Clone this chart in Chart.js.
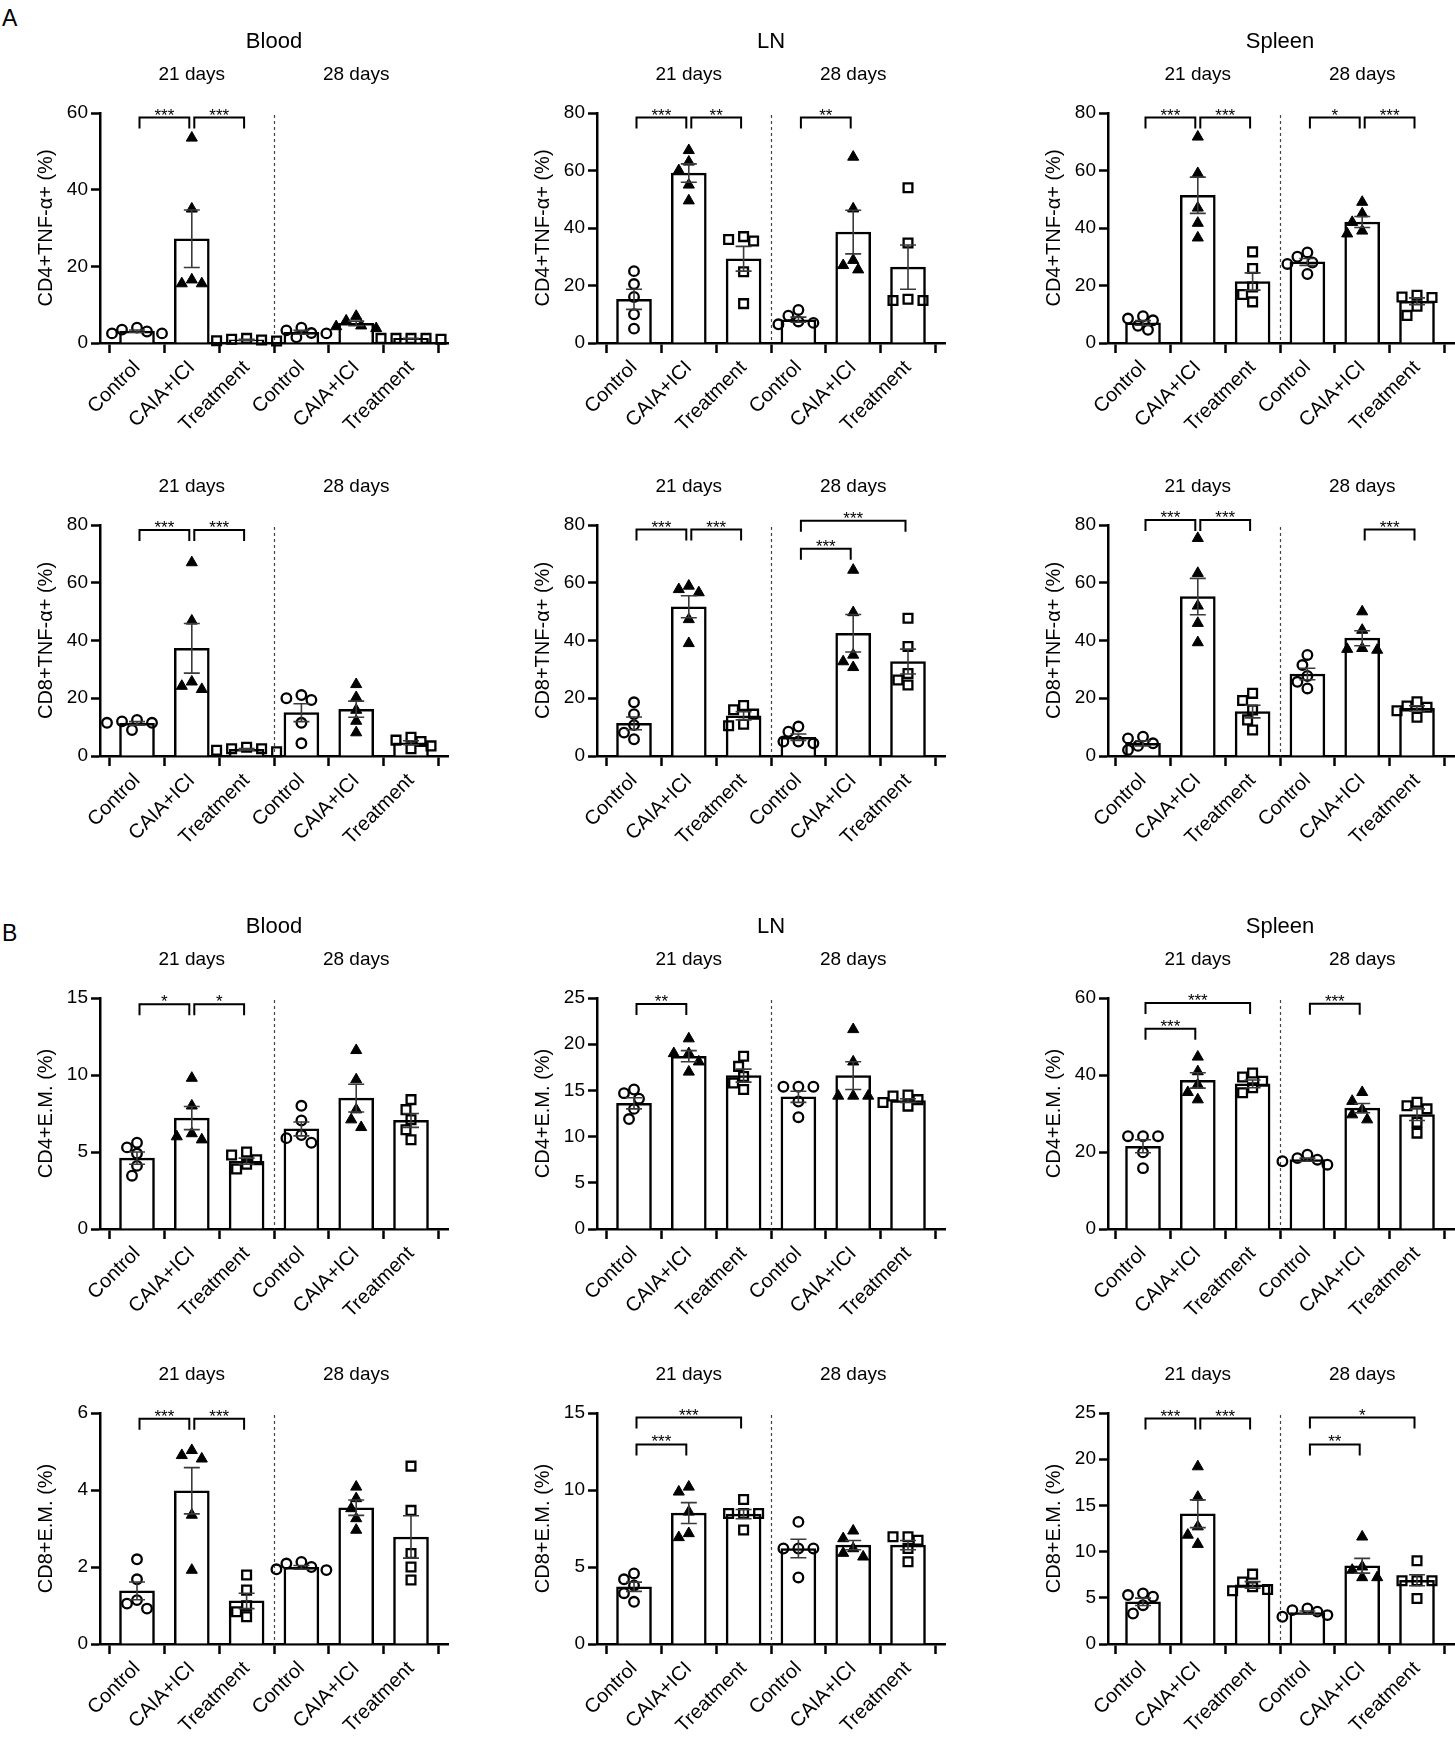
<!DOCTYPE html>
<html><head><meta charset="utf-8">
<script src="https://cdn.jsdelivr.net/npm/chart.js@4"></script>
<style>
body{margin:0;background:#fff;}
#wrap{position:relative;width:1455px;height:1745px;overflow:hidden;font-family:"Liberation Sans",Arial,sans-serif;background:#fff;}
canvas{position:absolute;}
.lbl{position:absolute;font-size:23px;color:#000;line-height:1;}
</style></head>
<body><div id="wrap"><div class="lbl" style="left:2px;top:7px">A</div><div class="lbl" style="left:2px;top:922px">B</div></div>
<script>
// ---------- categories / labels ----------
const GROUPS = ['Control','CAIA+ICI','Treatment','Control','CAIA+ICI','Treatment'];
const DAYS = ['21 days','28 days'];
const TISSUES = ['Blood','LN','Spleen'];
const Y_TITLES = ['CD4+TNF-\u03b1+ (%)','CD8+TNF-\u03b1+ (%)','CD4+E.M. (%)','CD8+E.M. (%)'];
const Y_MAX  = [[60,80,80],[80,80,80],[15,25,60],[6,15,25]];
const Y_STEP = [[20,20,20],[20,20,20],[5,5,20],[2,5,5]];

// ---------- A: CD4+TNF-a+ ----------
const bloodCD4TNF_pts = [[2.5,4.0,3.0,3.5,2.5],[53.5,35,15.5,16.5,15.5],[0.5,1.0,0.8,1.2,0.6],[4.0,3.3,1.5,2.5,2.6],[7.0,5.8,3.8,4.5,4.3],[1.2,1.2,1.0,1.2,1.2]];
const bloodCD4TNF_mean = [3.1,27.2,0.8,2.8,5.1,1.2];
const bloodCD4TNF_sem = [0.3,7.5,0.15,0.5,0.6,0.05];
const bloodCD4TNF_sig = [[0,1,'***',58.8],[1,2,'***',58.8]];

const lnCD4TNF_pts = [[25,20.5,16,10,5],[67,63,60,55,49.5],[36,37,35.5,24.8,13.7],[11.5,9.5,6.5,7.5,7],[64.7,46.7,28.8,25.5,27],[54,34.8,14.8,15.2,14.8]];
const lnCD4TNF_mean = [15.2,59.1,29.3,8.1,38.6,26.4];
const lnCD4TNF_sem = [3.5,3.2,4.3,0.9,7.6,7.7];
const lnCD4TNF_sig = [[0,1,'***',78.4],[1,2,'**',78.4],[3,4,'**',78.4]];

const spleenCD4TNF_pts = [[7.9,9.3,4.6,6.0,8.5],[71.7,59,47,41.7,36.6],[31.7,25.9,19.5,16.9,14.3],[31.5,30,28,27.5,24],[49,45,42,38,39],[16.6,15.8,16,12.8,9.6]];
const spleenCD4TNF_mean = [7.0,51.4,21.4,28.2,42.1,14.5];
const spleenCD4TNF_sem = [0.8,6.3,3.0,1.2,1.9,1.2];
const spleenCD4TNF_sig = [[0,1,'***',78.4],[1,2,'***',78.4],[3,4,'*',78.4],[4,5,'***',78.4]];

// ---------- A: CD8+TNF-a+ ----------
const bloodCD8TNF_pts = [[12,12.5,11.5,9,11.5],[67,46.8,25.7,23.1,24.2],[3,2.5,2,1.5,2.5],[20,21.1,19.4,11.5,4.4],[24.8,20.3,15.9,12.1,8.1],[6.5,5.5,5,3.5,2.5]];
const bloodCD8TNF_mean = [11.3,37.3,2.3,15.0,16.2,4.6];
const bloodCD8TNF_sem = [0.6,8.6,0.25,3.1,2.8,0.7];
const bloodCD8TNF_sig = [[0,1,'***',78.3],[1,2,'***',78.3]];

const lnCD8TNF_pts = [[18.6,14.5,10.7,8.1,5.8],[57.7,58.9,56.6,47.3,39],[17.5,14.5,16,11,10.5],[10.2,8.4,5,4.4,5],[64.4,49.7,35,30.7,32.7],[47.7,37.9,28.6,24.6,26.3]];
const lnCD8TNF_mean = [11.3,51.7,13.9,6.5,42.5,32.7];
const lnCD8TNF_sem = [2.2,3.8,1.4,1.1,6.5,4.3];
const lnCD8TNF_sig = [[0,1,'***',78.4],[1,2,'***',78.4],[3,4,'***',71.8],[3,5,'***',81.5]];

const spleenCD8TNF_pts = [[6.1,2.1,4.4,6.7,3.5],[75.4,63.3,52,46,39.3],[21.7,19.2,15.9,12.5,9],[35,31.5,27.7,25.7,23.4],[50,43.6,37.3,36.7,37],[18.8,17.3,16.9,15.7,13.4]];
const spleenCD8TNF_mean = [4.4,55.2,15.4,28.4,40.8,16.5];
const spleenCD8TNF_sem = [0.9,6.3,2.2,2.0,2.6,0.9];
const spleenCD8TNF_sig = [[0,1,'***',81.7],[1,2,'***',81.7],[4,5,'***',78.4]];

// ---------- B: CD4+E.M. ----------
const bloodCD4EM_pts = [[5.6,4.9,5.3,4.1,3.46],[9.8,8.0,6.2,5.8,6.0],[4.8,4.5,3.9,5.0,4.2],[8.0,7.05,6.1,5.6,5.9],[11.6,9.7,7.75,6.6,7.1],[8.4,7.75,7.1,6.45,5.8]];
const bloodCD4EM_mean = [4.6,7.2,4.4,6.5,8.5,7.05];
const bloodCD4EM_sem = [0.4,0.75,0.2,0.45,0.9,0.45];
const bloodCD4EM_sig = [[0,1,'*',14.6],[1,2,'*',14.6]];

const lnCD4EM_pts = [[15.1,14.7,14.1,13,11.9],[20.6,19.0,19.0,18.1,17.0],[18.7,17.6,16.5,15.8,15.1],[15.4,15.4,15.4,13.8,12.1],[21.6,18.1,14.4,14.4,14.4],[14.5,14.4,14.0,13.7,13.3]];
const lnCD4EM_mean = [13.6,18.7,16.6,14.3,16.6,13.9];
const lnCD4EM_sem = [0.6,0.6,0.7,0.6,1.5,0.2];
const lnCD4EM_sig = [[0,1,'**',24.35]];

const spleenCD4EM_pts = [[24.1,24.1,24.1,19.9,15.8],[44.7,40.9,37.5,35.5,33.6],[40.5,39.5,38.4,36.7,35.4],[19.3,18.4,18,17.6,16.7],[35.5,33.2,31,29.7,28.4],[32.9,32,31.2,27.7,24.9]];
const spleenCD4EM_mean = [21.5,38.6,37.7,18.0,31.4,29.7];
const spleenCD4EM_sem = [1.7,2.0,1.0,0.4,1.2,1.5];
const spleenCD4EM_sig = [[0,1,'***',52],[0,2,'***',58.7],[3,4,'***',58.5]];

// ---------- B: CD8+E.M. ----------
const bloodCD8EM_pts = [[2.2,1.68,1.14,0.92,1.05],[5.03,4.9,4.81,3.35,1.92],[1.79,1.40,0.99,0.84,0.71],[2.13,2.09,2.0,1.94,1.92],[4.08,3.78,3.52,3.26,2.96],[4.62,3.47,2.35,2.0,1.66]];
const bloodCD8EM_mean = [1.38,3.98,1.12,1.99,3.54,2.78];
const bloodCD8EM_sem = [0.23,0.6,0.2,0.05,0.2,0.55];
const bloodCD8EM_sig = [[0,1,'***',5.85],[1,2,'***',5.85]];

const lnCD8EM_pts = [[4.58,4.2,3.8,3.3,2.74],[10.2,9.88,8.58,6.92,7.18],[9.38,8.47,8.47,8.47,7.4],[7.93,6.2,6.2,6.2,4.32],[7.35,6.85,6.2,5.66,5.9],[6.96,6.96,6.74,6.2,5.34]];
const lnCD8EM_mean = [3.72,8.5,8.43,6.2,6.42,6.42];
const lnCD8EM_sem = [0.3,0.68,0.3,0.6,0.3,0.3];
const lnCD8EM_sig = [[0,1,'***',12.96],[0,2,'***',14.7]];

const spleenCD8EM_pts = [[5.48,5.12,5.3,4.2,3.3],[19.2,15.9,12.7,11.8,10.8],[7.56,6.7,6.2,5.9,5.76],[3.85,3.67,3.5,3.13,2.95],[11.6,8.36,8.0,7.2,7.2],[9.0,6.84,6.84,6.84,4.93]];
const spleenCD8EM_mean = [4.57,14.1,6.4,3.4,8.47,6.9];
const spleenCD8EM_sem = [0.4,1.5,0.35,0.17,0.8,0.6];
const spleenCD8EM_sig = [[0,1,'***',24.4],[1,2,'***',24.4],[3,4,'**',21.6],[3,5,'*',24.5]];

// ---------- assemble ----------
const PANELS = [
  [{pts:bloodCD4TNF_pts,mean:bloodCD4TNF_mean,sem:bloodCD4TNF_sem,sig:bloodCD4TNF_sig},
   {pts:lnCD4TNF_pts,mean:lnCD4TNF_mean,sem:lnCD4TNF_sem,sig:lnCD4TNF_sig},
   {pts:spleenCD4TNF_pts,mean:spleenCD4TNF_mean,sem:spleenCD4TNF_sem,sig:spleenCD4TNF_sig}],
  [{pts:bloodCD8TNF_pts,mean:bloodCD8TNF_mean,sem:bloodCD8TNF_sem,sig:bloodCD8TNF_sig},
   {pts:lnCD8TNF_pts,mean:lnCD8TNF_mean,sem:lnCD8TNF_sem,sig:lnCD8TNF_sig},
   {pts:spleenCD8TNF_pts,mean:spleenCD8TNF_mean,sem:spleenCD8TNF_sem,sig:spleenCD8TNF_sig}],
  [{pts:bloodCD4EM_pts,mean:bloodCD4EM_mean,sem:bloodCD4EM_sem,sig:bloodCD4EM_sig},
   {pts:lnCD4EM_pts,mean:lnCD4EM_mean,sem:lnCD4EM_sem,sig:lnCD4EM_sig},
   {pts:spleenCD4EM_pts,mean:spleenCD4EM_mean,sem:spleenCD4EM_sem,sig:spleenCD4EM_sig}],
  [{pts:bloodCD8EM_pts,mean:bloodCD8EM_mean,sem:bloodCD8EM_sem,sig:bloodCD8EM_sig},
   {pts:lnCD8EM_pts,mean:lnCD8EM_mean,sem:lnCD8EM_sem,sig:lnCD8EM_sig},
   {pts:spleenCD8EM_pts,mean:spleenCD8EM_mean,sem:spleenCD8EM_sem,sig:spleenCD8EM_sig}]
];
const TITLE_ROWS = [true,false,true,false];

// ---------- layout (pixels) ----------
const FONT = '"Liberation Sans", Arial, Helvetica, sans-serif';
const COLS = [{left:0,w:480,axis:100,first:37},{left:480,w:495,axis:597,first:37},{left:975,w:510,axis:1108,first:35}];
const ROWS = [{top:0,h:460,pt:113,pb:343},{top:460,h:420,pt:525,pb:756},{top:880,h:450,pt:998,pb:1229},{top:1330,h:415,pt:1413,pb:1644}];
const SPACING = 54.8;

function swarm(vals, pxPerVal, pxPerIdx){
  const order = vals.map((v,i)=>i).sort((a,b)=>vals[b]-vals[a]);
  const placed = [], off = new Array(vals.length).fill(0);
  const step = 5, minD = 10.5;
  order.forEach(i=>{
    for(let k=0;k<40;k++){
      const n = k===0?0:(k%2?-Math.ceil(k/2):Math.ceil(k/2));
      const dx = n*step;
      if(placed.every(p=>Math.hypot(p.dx-dx,(p.v-vals[i])*pxPerVal)>=minD)){
        off[i]=dx/pxPerIdx; placed.push({dx,v:vals[i]}); break;
      }
    }
  });
  return off;
}

const deco = {
  id:'deco',
  beforeDatasetsDraw(chart,args,o){
    const {ctx,chartArea:a,scales:{x}} = chart;
    const sx = Math.round(x.getPixelForValue(2.5))+0.5;
    ctx.save(); ctx.strokeStyle='#444'; ctx.lineWidth=1.2; ctx.setLineDash([3,3]);
    ctx.beginPath(); ctx.moveTo(sx,a.top+2); ctx.lineTo(sx,a.bottom); ctx.stroke(); ctx.restore();
  },
  afterDatasetsDraw(chart,args,o){
    const {ctx,scales:{x,y}} = chart;
    ctx.save(); ctx.strokeStyle='#3a3a3a'; ctx.lineWidth=1.6;
    o.mean.forEach((m,i)=>{
      const px=x.getPixelForValue(i), yt=y.getPixelForValue(m+o.sem[i]), yb=y.getPixelForValue(Math.max(0,m-o.sem[i]));
      ctx.beginPath();
      ctx.moveTo(px,yt); ctx.lineTo(px,yb);
      ctx.moveTo(px-8,yt); ctx.lineTo(px+8,yt);
      ctx.moveTo(px-8,yb); ctx.lineTo(px+8,yb);
      ctx.stroke();
    });
    ctx.restore();
  },
  afterDraw(chart,args,o){
    const {ctx,chartArea:a,scales:{x,y}} = chart;
    ctx.save();
    ctx.strokeStyle='#000'; ctx.fillStyle='#000'; ctx.lineWidth=2;
    o.sig.forEach(([g1,g2,lab,yv])=>{
      const x1=x.getPixelForValue(g1)+2.5, x2=x.getPixelForValue(g2)-2.5, yy=y.getPixelForValue(yv);
      ctx.beginPath(); ctx.moveTo(x1,yy+11); ctx.lineTo(x1,yy); ctx.lineTo(x2,yy); ctx.lineTo(x2,yy+11); ctx.stroke();
      ctx.font='17px '+FONT; ctx.textAlign='center'; ctx.textBaseline='alphabetic';
      ctx.fillText(lab,(x1+x2)/2,yy+3);
    });
    ctx.font='19px '+FONT; ctx.textAlign='center'; ctx.textBaseline='middle';
    ctx.fillText(DAYS[0],x.getPixelForValue(1),a.top-38);
    ctx.fillText(DAYS[1],x.getPixelForValue(4),a.top-38);
    if(o.title){ ctx.font='22px '+FONT; ctx.fillText(o.title,x.getPixelForValue(2.5),a.top-71); }
    ctx.restore();
  }
};

const wrap = document.getElementById('wrap');
function makePanel(r,c){
  const col=COLS[c], row=ROWS[r], d=PANELS[r][c];
  const cv=document.createElement('canvas');
  cv.width=col.w; cv.height=row.h;
  cv.style.left=col.left+'px'; cv.style.top=row.top+'px';
  cv.style.width=col.w+'px'; cv.style.height=row.h+'px';
  wrap.appendChild(cv);
  const yW=col.axis-col.left;
  const areaRight=Math.min(col.axis+348,col.left+col.w);
  const areaW=areaRight-col.axis;
  const padRight=col.left+col.w-areaRight;
  const xMin=-col.first/SPACING, xMax=xMin+areaW/SPACING;
  const plotH=row.pb-row.pt;
  const xH=row.h-(row.pb-row.top);
  const yMax=Y_MAX[r][c];
  const pxPerVal=plotH/yMax;
  const styles=['circle','triangle','rect'];
  const radii=[4.8,6.4,6.2];
  const scatterSets=styles.map((st,s)=>{
    const data=[];
    [s,s+3].forEach(g=>{
      const offs=swarm(d.pts[g],pxPerVal,SPACING);
      d.pts[g].forEach((v,k)=>data.push({x:g+offs[k],y:v}));
    });
    return {type:'scatter',data,order:1,clip:false,
      pointStyle:st,pointRadius:radii[s],pointHoverRadius:radii[s],
      pointBackgroundColor:s===1?'#000':'rgba(0,0,0,0)',pointBorderColor:'#000',
      pointBorderWidth:s===1?1:2.3};
  });
  new Chart(cv,{
    type:'bar',
    data:{datasets:[
      {type:'bar',data:d.mean.map((m,i)=>({x:i,y:m})),backgroundColor:'#fff',borderColor:'#000',borderWidth:2.5,barThickness:35,order:2},
      ...scatterSets]},
    options:{
      responsive:false,animation:false,devicePixelRatio:1,
      layout:{padding:{left:0,right:padRight,top:row.pt-row.top,bottom:0}},
      plugins:{legend:{display:false},tooltip:{enabled:false},
        deco:{mean:d.mean,sem:d.sem,sig:d.sig,title:TITLE_ROWS[r]?TISSUES[c]:null}},
      scales:{
        x:{type:'linear',min:xMin,max:xMax,offset:false,
          afterBuildTicks:s=>{s.ticks=[0,1,2,3,4,5].map(v=>({value:v}));},
          afterFit:s=>{s.height=xH; s.paddingLeft=0; s.paddingRight=0;},
          ticks:{callback:v=>GROUPS[v],minRotation:45,maxRotation:45,autoSkip:false,color:'#000',font:{family:FONT,size:20},padding:3},
          grid:{drawOnChartArea:false,drawTicks:true,tickLength:10,tickWidth:2.5,tickColor:'#000'},
          border:{display:true,color:'#000',width:2.5}},
        y:{type:'linear',min:0,max:yMax,
          afterFit:s=>{s.width=yW; s.paddingTop=0; s.paddingBottom=0;},
          ticks:{stepSize:Y_STEP[r][c],color:'#000',font:{family:FONT,size:19},padding:3},
          grid:{drawOnChartArea:false,drawTicks:true,tickLength:9,tickWidth:2.5,tickColor:'#000'},
          border:{display:true,color:'#000',width:2.5},
          title:{display:true,text:Y_TITLES[r],color:'#000',font:{family:FONT,size:20},padding:{top:yW-54-12,bottom:0}}}
      }
    },
    plugins:[deco]
  });
}
for(let r=0;r<4;r++) for(let c=0;c<3;c++) makePanel(r,c);
</script>
</body></html>
